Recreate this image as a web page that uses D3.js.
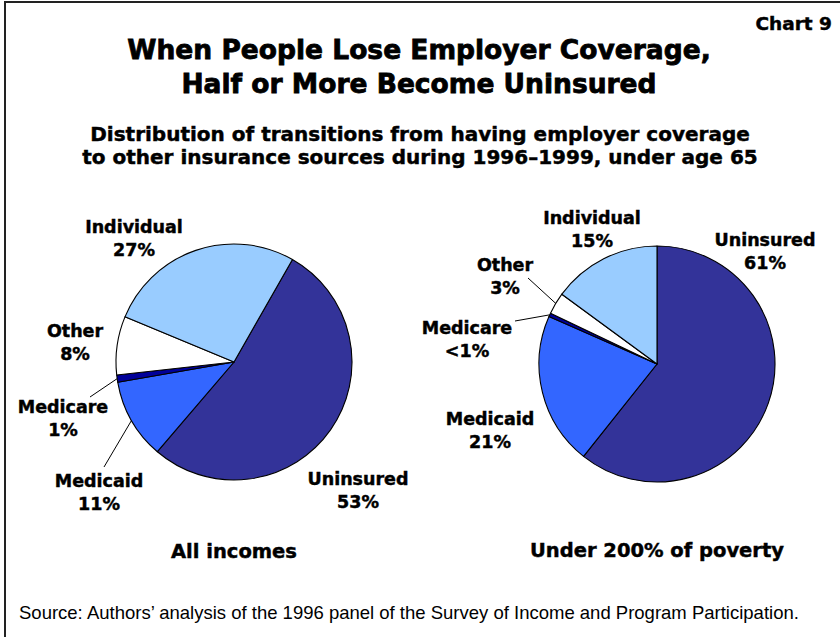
<!DOCTYPE html>
<html>
<head>
<meta charset="utf-8">
<script src="https://cdn.jsdelivr.net/npm/d3@7"></script>
<style>
  html, body { margin: 0; padding: 0; background: #fff; }
  svg { display: block; }
  .bold { font-family: "DejaVu Sans", Verdana, sans-serif; font-weight: bold; fill: #000; stroke: #000; stroke-width: 0.45px; }
  .heavy { stroke-width: 0.8px; }
  .source { font-family: "Liberation Sans", Arial, sans-serif; fill: #000; }
</style>
</head>
<body>
<svg id="chart" width="840" height="637"></svg>
<script>
// Insurance sources after losing employer coverage (percent of transitions)
const categories = ["Uninsured", "Medicaid", "Medicare", "Other", "Individual"];
const allIncomesValues = [53, 11, 1, 8, 27];
const underPovertyValues = [61, 21, 0.5, 3, 15];
const allIncomesPctLabels = ["53%", "11%", "1%", "8%", "27%"];
const underPovertyPctLabels = ["61%", "21%", "<1%", "3%", "15%"];
const panelTitles = ["All incomes", "Under 200% of poverty"];

const titleLines = ["When People Lose Employer Coverage,", "Half or More Become Uninsured"];
const subtitleLines = [
  "Distribution of transitions from having employer coverage",
  "to other insurance sources during 1996\u20131999, under age 65"
];
const chartTag = "Chart 9";
const sourceNote = "Source: Authors\u2019 analysis of the 1996 panel of the Survey of Income and Program Participation.";

const colors = d3.scaleOrdinal()
  .domain(categories)
  .range(["#333399", "#3366FF", "#000099", "#FFFFFF", "#99CCFF"]);

const svg = d3.select("#chart");

// frame
svg.append("path")
  .attr("d", "M5,637V2H840")
  .attr("fill", "none")
  .attr("stroke", "#222")
  .attr("stroke-width", 2);

svg.append("text").attr("class", "bold")
  .attr("x", 832).attr("y", 30).attr("text-anchor", "end")
  .style("font-size", "18.5px")
  .text(chartTag);

svg.append("g").selectAll("text").data(titleLines).join("text")
  .attr("class", "bold heavy")
  .attr("x", 419).attr("y", (d, i) => 59 + i * 34)
  .attr("text-anchor", "middle")
  .style("font-size", "26.5px")
  .text(d => d);

svg.append("g").selectAll("text").data(subtitleLines).join("text")
  .attr("class", "bold")
  .attr("x", 420).attr("y", (d, i) => 141 + i * 23)
  .attr("text-anchor", "middle")
  .style("font-size", "20px")
  .text(d => d);

// panel layout: pie centre, radius, start angle, label anchors
const panels = [
  {
    values: allIncomesValues, pct: allIncomesPctLabels, title: panelTitles[0],
    cx: 234, cy: 362, r: 118, start: 29.7 * Math.PI / 180, titleY: 558,
    labels: {
      Uninsured: [358, 485], Medicaid: [99, 487], Medicare: [63, 413],
      Other: [75, 337], Individual: [134, 233]
    },
    leaders: { Medicare: [90, 397], Medicaid: [104, 467] }
  },
  {
    values: underPovertyValues, pct: underPovertyPctLabels, title: panelTitles[1],
    cx: 657, cy: 364, r: 118, start: 0, titleY: 557,
    labels: {
      Uninsured: [765, 246], Medicaid: [490, 425], Medicare: [467, 334],
      Other: [505, 271], Individual: [592, 224]
    },
    leaders: { Other: [528, 278], Medicare: [515, 321] }
  }
];

panels.forEach(p => {
  const data = categories.map((c, i) => ({ cat: c, value: p.values[i], pct: p.pct[i] }));
  const pie = d3.pie().sort(null).value(d => d.value)
    .startAngle(p.start).endAngle(p.start + 2 * Math.PI);
  const arcs = pie(data);
  const arc = d3.arc().innerRadius(0).outerRadius(p.r);

  const g = svg.append("g").attr("transform", `translate(${p.cx},${p.cy})`);
  g.selectAll("path").data(arcs).join("path")
    .attr("d", arc)
    .attr("fill", d => colors(d.data.cat))
    .attr("stroke", "#000")
    .attr("stroke-width", 1.1)
    .attr("stroke-linejoin", "round");

  // leader lines from label to the slice edge at its mid-angle
  arcs.forEach(a => {
    const from = p.leaders[a.data.cat];
    if (!from) return;
    const mid = (a.startAngle + a.endAngle) / 2;
    const ex = p.cx + Math.sin(mid) * p.r;
    const ey = p.cy - Math.cos(mid) * p.r;
    svg.append("line")
      .attr("x1", from[0]).attr("y1", from[1])
      .attr("x2", ex).attr("y2", ey)
      .attr("stroke", "#000").attr("stroke-width", 1);
  });

  // category and percentage labels
  arcs.forEach(a => {
    const pos = p.labels[a.data.cat];
    const t = svg.append("text").attr("class", "bold")
      .attr("text-anchor", "middle")
      .style("font-size", "17.5px");
    t.append("tspan").attr("x", pos[0]).attr("y", pos[1]).text(a.data.cat);
    t.append("tspan").attr("x", pos[0]).attr("y", pos[1] + 23).text(a.data.pct);
  });

  svg.append("text").attr("class", "bold")
    .attr("x", p.cx).attr("y", p.titleY)
    .attr("text-anchor", "middle")
    .style("font-size", "19.5px")
    .text(p.title);
});

svg.append("text").attr("class", "source")
  .attr("x", 19).attr("y", 619)
  .style("font-size", "18.5px")
  .text(sourceNote);
</script>
</body>
</html>
